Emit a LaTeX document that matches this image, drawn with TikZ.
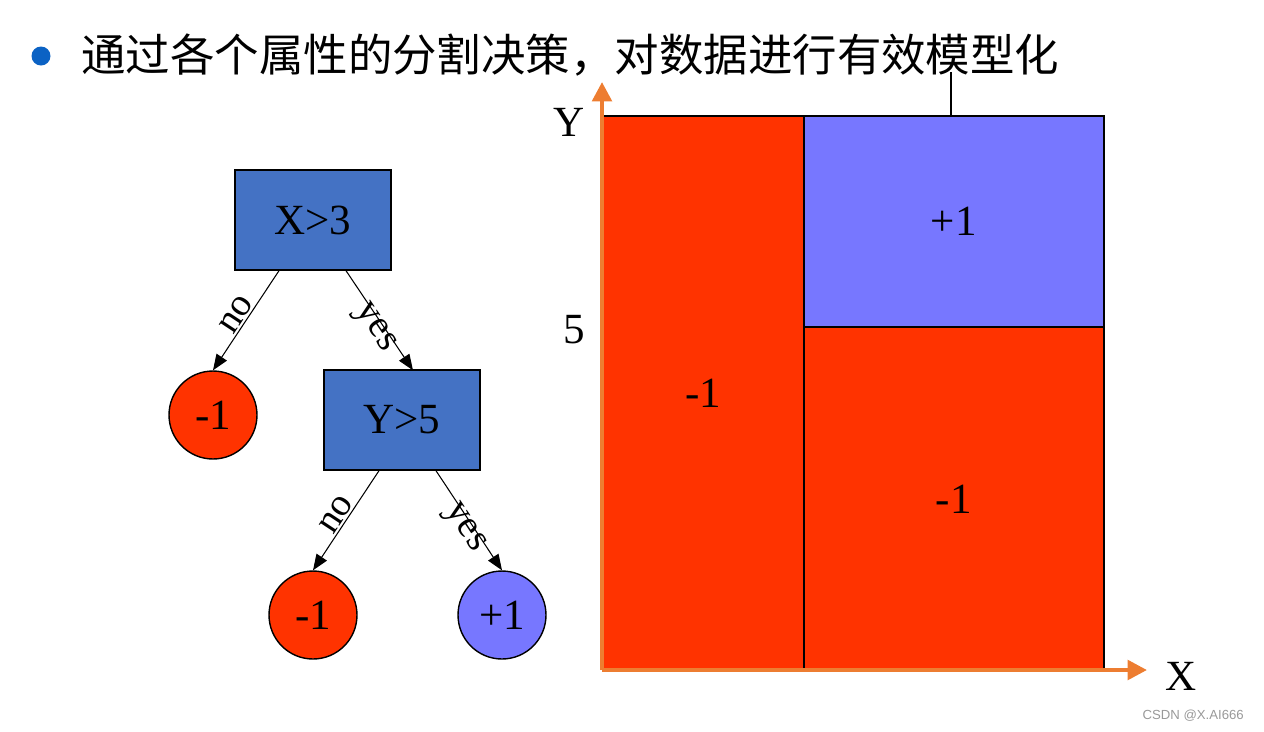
\documentclass[tikz,border=0pt]{standalone}
\usepackage{fontspec}
\setmainfont{Liberation Serif}
\newfontfamily\cjk{Noto Sans CJK SC}
\newfontfamily\wm{Liberation Sans}
\usetikzlibrary{arrows.meta}
\definecolor{boxblue}{HTML}{4472C4}
\definecolor{redfill}{HTML}{FF3300}
\definecolor{violet1}{HTML}{7777FF}
\definecolor{axisor}{HTML}{ED7D31}
\definecolor{bullet}{HTML}{0B62C4}
\tikzset{
  treebox/.style={draw=black, line width=0.8pt, fill=boxblue, minimum width=3.12cm, minimum height=2cm, inner sep=0pt, font=\fontsize{24.5}{28}\selectfont},
  leafneg/.style={circle, draw=black, line width=0.8pt, fill=redfill, minimum size=1.76cm, inner sep=0pt, font=\fontsize{24.5}{28}\selectfont},
  leafpos/.style={circle, draw=black, line width=0.8pt, fill=violet1, minimum size=1.76cm, inner sep=0pt, font=\fontsize{24.5}{28}\selectfont},
  edge/.style={-{Triangle[length=9pt,width=7pt]}, line width=0.6pt},
  elabel/.style={sloped, font=\fontsize{22}{26}\selectfont, inner sep=1pt},
  region/.style={draw=black, line width=1pt},
  axis/.style={draw=axisor, line width=2.4pt, -{Triangle[length=11pt,width=11pt]}},
  big/.style={font=\fontsize{24.5}{28}\selectfont}
}
\begin{document}
\begin{tikzpicture}[x=0.02cm, y=-0.02cm]
\useasboundingbox (0,0) rectangle (1264,731);
% title
\fill[bullet] (41,56) circle (9.5);
\node[anchor=west, inner sep=0pt, font=\cjk\fontsize{25.3}{30}\selectfont] (title) at (81,55) {通过各个属性的分割决策，对数据进行有效模型化};
% tree
\node[treebox] (r) at (313,220) {X>3};
\node[leafneg] (l1) at (213,415) {-1};
\node[treebox] (r2) at (402,420) {Y>5};
\node[leafneg] (l2) at (313,615) {-1};
\node[leafpos] (l3) at (502,615) {+1};
\draw[edge] (r.south -| 279,0) -- node[elabel, above] {no} (l1.north);
\draw[edge] (r.south -| 346,0) -- node[elabel, above, xshift=2pt, yshift=-14pt] {yes} (l1.north -| 413,0);
\draw[edge] (r2.south -| 379,0) -- node[elabel, above] {no} (l2.north);
\draw[edge] (r2.south -| 436,0) -- node[elabel, above, xshift=2pt, yshift=-14pt] {yes} (l3.north);
% right panel
\coordinate (o) at (602,670);
\coordinate (ytip) at (602,82);
\coordinate (xtip) at (1147,670);
\node[region, fill=redfill, minimum width=4.02cm, minimum height=11.1cm, inner sep=0pt, anchor=north west, big] (a) at (602,115) {-1};
\node[region, fill=violet1, minimum width=6cm, minimum height=4.22cm, inner sep=0pt, anchor=north west, big] (b) at (803,115) {+1};
\node[region, fill=redfill, minimum width=6cm, minimum height=6.88cm, inner sep=0pt, anchor=north west, big] (c) at (803,326) {-1};
\coordinate (top) at (951,72);
\draw[line width=1pt] (b.north -| top) -- (top);
\draw[axis] (o) -- (ytip);
\draw[axis] (o) -- (xtip);
\node[big] (ylab) at (569,122) {Y};
\node[big] (five) at (574,330) {5};
\node[big] (xlab) at (1181,676) {X};
\node[font=\wm\fontsize{7.5}{9}\selectfont, text=gray!80, anchor=east] (wmk) at (1250,716) {CSDN @X.AI666};
\end{tikzpicture}
\end{document}
